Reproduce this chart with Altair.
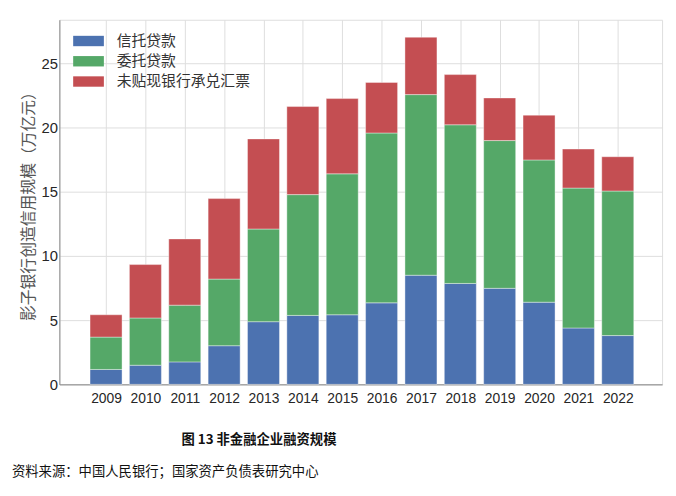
import altair as alt
import pandas as pd

years = list(range(2009, 2023))
series = ["信托贷款", "委托贷款", "未贴现银行承兑汇票"]
colors = ["#4C72B0", "#55A868", "#C44E52"]
trust = [1.16, 1.49, 1.75, 3.01, 4.88, 5.37, 5.42, 6.35, 8.50, 7.86, 7.48, 6.40, 4.39, 3.80]
entrusted = [2.52, 3.68, 4.42, 5.19, 7.22, 9.41, 10.98, 13.23, 14.07, 12.36, 11.51, 11.08, 10.90, 11.26]
bills = [1.74, 4.16, 5.16, 6.27, 7.02, 6.86, 5.86, 3.94, 4.47, 3.91, 3.32, 3.49, 3.04, 2.67]
y_ticks = [0, 5, 10, 15, 20, 25]
y_title = "影子银行创造信用规模（万亿元）"
caption = "图  13 非金融企业融资规模"
source = "资料来源：中国人民银行；国家资产负债表研究中心"

rows = []
for i, yr in enumerate(years):
    for k, (name, vals) in enumerate(zip(series, [trust, entrusted, bills])):
        rows.append({"year": yr, "series": name, "value": vals[i], "order": k})
df = pd.DataFrame(rows)

font = "Liberation Sans, Noto Sans CJK SC"
cjk = "Noto Sans CJK SC"

bars = alt.Chart(df).mark_bar(size=32.4, stroke="white", strokeWidth=0.4).encode(
    x=alt.X("year:Q",
            scale=alt.Scale(domain=[2007.94, 2023], nice=False, zero=False),
            axis=alt.Axis(values=years, format="d", title=None, labelFontSize=14,
                          labelPadding=7, tickSize=0, labelFont=font, labelColor="#262626")),
    y=alt.Y("value:Q", stack="zero",
            scale=alt.Scale(domain=[0, 28.4], nice=False),
            axis=alt.Axis(values=y_ticks, title=y_title, titleFont=cjk, titleFontSize=16,
                          titleFontWeight="normal", titleColor="#555555", titlePadding=5,
                          labelFontSize=15, labelPadding=2, tickSize=0, labelFont=font,
                          labelColor="#262626")),
    color=alt.Color("series:N", sort=series,
                    scale=alt.Scale(domain=series, range=colors),
                    legend=alt.Legend(title=None, orient="none", legendX=19, legendY=11,
                                      symbolType="M-1.48,-0.5H1.48V0.5H-1.48Z",
                                      symbolSize=441, symbolStrokeWidth=0,
                                      labelFont=cjk, labelFontSize=15, labelColor="#333333",
                                      labelOffset=18, rowPadding=1.5, padding=0)),
    order=alt.Order("order:Q"),
)

cap = alt.Chart(pd.DataFrame({"t": [caption]})).mark_text(
    font=cjk, fontSize=13.5, fontWeight="bold", color="#111111", align="center", baseline="middle"
).encode(text="t:N", x=alt.value(202), y=alt.value(425))

src = alt.Chart(pd.DataFrame({"t": [source]})).mark_text(
    font=cjk, fontSize=13.5, color="#111111", align="left", baseline="middle"
).encode(text="t:N", x=alt.value(-48), y=alt.value(458))

chart = alt.layer(bars, cap, src).properties(
    width=610, height=369,
    autosize=alt.AutoSizeParams(type="none"),
    padding={"left": 52, "top": 9, "right": 6, "bottom": 102},
).configure_view(fill="#EAEAF2", stroke=None).configure_axis(
    grid=True, gridColor="white", gridWidth=1.2, domain=False, ticks=False
).configure(background="white")

chart.save("out.html", embed_options={"renderer": "svg", "actions": False})
